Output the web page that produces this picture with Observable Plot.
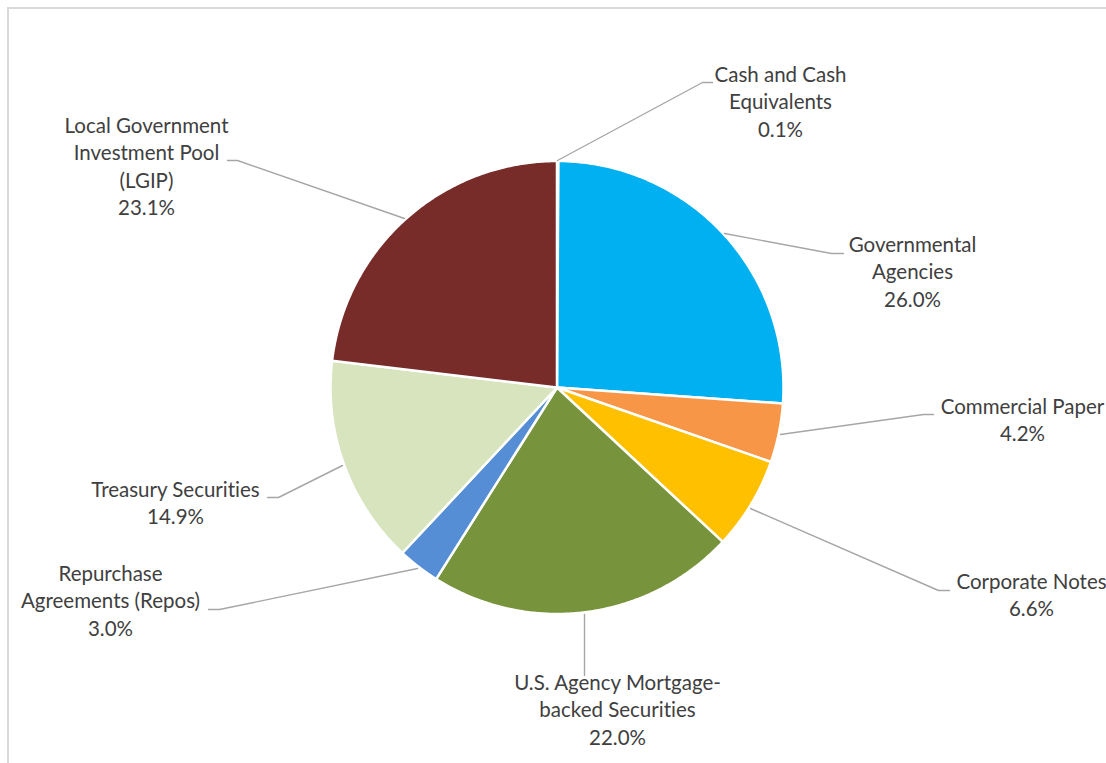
<!DOCTYPE html>
<html>
<head>
<meta charset="utf-8">
<script src="https://cdn.jsdelivr.net/npm/d3@7"></script>
<script src="https://cdn.jsdelivr.net/npm/@observablehq/plot@0.6"></script>
<style>
  html, body { margin: 0; padding: 0; background: #fff; overflow: hidden; }
  #wrap { position: relative; width: 1106px; height: 763px; }
  #frame { position: absolute; left: 7px; top: 6.5px; width: 1200px; height: 900px;
           border-left: 2px solid #d9d9d9; border-top: 2px solid #d9d9d9; }
  #chart { position: absolute; left: 0; top: 0; }
  #chart text { font-variant-ligatures: none; font-feature-settings: "liga" 0, "clig" 0; }
</style>
</head>
<body>
<div id="wrap"><div id="frame"></div><div id="chart"></div></div>
<script>
// ---- data ----
const categories = [
  "Cash and Cash Equivalents",
  "Governmental Agencies",
  "Commercial Paper",
  "Corporate Notes",
  "U.S. Agency Mortgage-backed Securities",
  "Repurchase Agreements (Repos)",
  "Treasury Securities",
  "Local Government Investment Pool (LGIP)"
];
const values = [0.1, 26.0, 4.2, 6.6, 22.0, 3.0, 14.9, 23.1];
const labelLines = [
  "Cash and Cash\nEquivalents",
  "Governmental\nAgencies",
  "Commercial Paper",
  "Corporate Notes",
  "U.S. Agency Mortgage-\nbacked Securities",
  "Repurchase\nAgreements (Repos)",
  "Treasury Securities",
  "Local Government\nInvestment Pool\n(LGIP)"
];
const colors = ["#4F81BD", "#00B0F0", "#F79646", "#FFC000", "#77933C", "#558ED5", "#D7E4BD", "#772C2A"];

// ---- layout (pixels) ----
const W = 1106, H = 763;
const cx = 556.5, cy = 387, R = 226.5;
const labelShift = -6;
const labelPos = [
  [780, 68], [912, 238], [1022, 400], [1031, 575],
  [617, 676], [110, 567], [175, 483], [146, 119]
];
const leaderPts = [
  [[557, 160], [702, 82], [712, 82]],
  [[724, 233], [831, 253], [843, 253]],
  [[780, 434], [923, 414], [933, 414]],
  [[750, 508], [938, 590], [949, 590]],
  [[584, 614], [584, 675]],
  [[417, 568], [219, 609], [208, 609]],
  [[342, 465], [278, 497], [267, 497]],
  [[404, 218], [237, 160], [227, 160]]
];

// ---- build slice polygons from d3.pie ----
const arcs = d3.pie().sort(null).value(d => d.value)(categories.map((name, i) => ({name, value: values[i]})));
const slicePts = [];
arcs.forEach(a => {
  const name = a.data.name;
  slicePts.push({name, x: cx, y: cy});
  const steps = Math.max(2, Math.ceil((a.endAngle - a.startAngle) / (Math.PI / 360)));
  for (let k = 0; k <= steps; k++) {
    const t = a.startAngle + (a.endAngle - a.startAngle) * k / steps;
    slicePts.push({name, x: cx + R * Math.sin(t), y: cy - R * Math.cos(t)});
  }
});

const leaders = [];
leaderPts.forEach((pts, i) => pts.forEach(p => leaders.push({name: categories[i], x: p[0], y: p[1]})));

const labels = categories.map((name, i) => ({
  name,
  text: labelLines[i] + "\n" + values[i].toFixed(1) + "%",
  x: labelPos[i][0],
  y: labelPos[i][1] + labelShift
}));

const chart = Plot.plot({
  width: W,
  height: H,
  margin: 0,
  x: {domain: [0, W], range: [0, W], axis: null},
  y: {domain: [0, H], range: [0, H], axis: null},
  color: {domain: categories, range: colors},
  style: {background: "transparent", fontFamily: "Lato, 'Open Sans', sans-serif"},
  marks: [
    Plot.line(slicePts, {x: "x", y: "y", z: "name", fill: "name", stroke: "white",
      strokeWidth: 2.5, strokeLinejoin: "round", curve: "linear-closed"}),
    Plot.line(leaders, {x: "x", y: "y", z: "name", stroke: "#a6a6a6", strokeWidth: 1.4}),
    Plot.text(labels, {x: "x", y: "y", text: "text", textAnchor: "middle", lineAnchor: "top",
      lineHeight: 1.337, fontSize: 20.5, fill: "#404040"})
  ]
});
document.getElementById("chart").appendChild(chart);
</script>
</body>
</html>
